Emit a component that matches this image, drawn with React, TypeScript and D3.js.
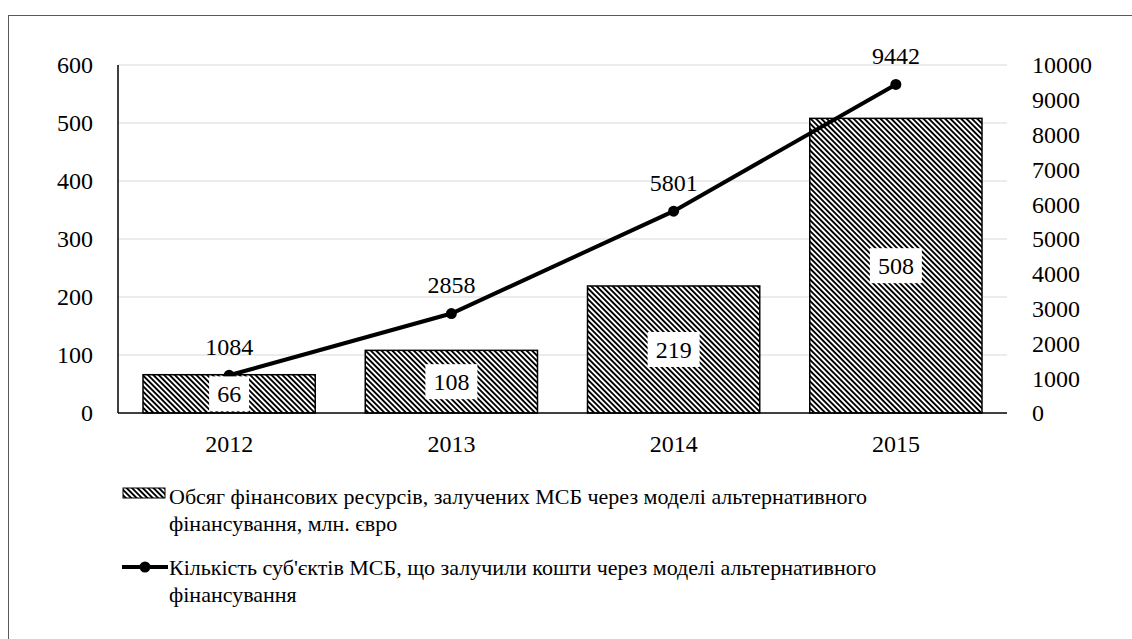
import React, { useEffect, useRef } from 'react';
import * as d3 from 'd3';

const years = ['2012', '2013', '2014', '2015'];
const volume = [66, 108, 219, 508];
const smeCount = [1084, 2858, 5801, 9442];
const leftTicks = [0, 100, 200, 300, 400, 500, 600];
const rightTicks = [0, 1000, 2000, 3000, 4000, 5000, 6000, 7000, 8000, 9000, 10000];
const legendBar = ['Обсяг фінансових ресурсів, залучених МСБ через моделі альтернативного', 'фінансування, млн. євро'];
const legendLine = ['Кількість суб\'єктів МСБ, що залучили кошти через моделі альтернативного', 'фінансування'];

export default function App() {
  const ref = useRef<SVGSVGElement>(null);

  useEffect(() => {
    const svg = d3.select(ref.current);
    svg.selectAll('*').remove();
    const font = "'Liberation Serif', 'Times New Roman', serif";

    const left = 118, right = 1007, top = 65, bottom = 413;

    // hatch pattern
    const defs = svg.append('defs');
    const pat = defs.append('pattern')
      .attr('id', 'hatch')
      .attr('patternUnits', 'userSpaceOnUse')
      .attr('width', 3.8).attr('height', 3.8)
      .attr('patternTransform', 'rotate(45)');
    pat.append('rect').attr('width', 3.8).attr('height', 3.8).attr('fill', '#fff');
    pat.append('rect').attr('x', 0).attr('y', 0).attr('width', 3.8).attr('height', 1.9).attr('fill', '#000');

    // outer frame
    svg.append('rect').attr('x', 8.5).attr('y', 15.5).attr('width', 1200).attr('height', 700)
      .attr('fill', 'none').attr('stroke', '#595959').attr('stroke-width', 1);

    const x = d3.scaleBand().domain(years).range([left, right]).paddingInner(0.225).paddingOuter(0.1125);
    const yL = d3.scaleLinear().domain([0, 600]).range([bottom, top]);
    const yR = d3.scaleLinear().domain([0, 10000]).range([bottom, top]);

    // gridlines
    svg.append('g').selectAll('line').data(leftTicks.filter(d => d > 0)).enter().append('line')
      .attr('x1', left).attr('x2', right)
      .attr('y1', d => yL(d)).attr('y2', d => yL(d))
      .attr('stroke', '#d9d9d9').attr('stroke-width', 1);

    // bars
    svg.append('g').selectAll('rect').data(volume).enter().append('rect')
      .attr('x', (d, i) => x(years[i])!)
      .attr('y', d => yL(d))
      .attr('width', x.bandwidth())
      .attr('height', d => bottom - yL(d))
      .attr('fill', 'url(#hatch)')
      .attr('stroke', '#000').attr('stroke-width', 1.5);

    // axes lines
    svg.append('line').attr('x1', left).attr('x2', left).attr('y1', top).attr('y2', bottom)
      .attr('stroke', '#000').attr('stroke-width', 1.5);
    svg.append('line').attr('x1', left).attr('x2', right).attr('y1', bottom).attr('y2', bottom)
      .attr('stroke', '#000').attr('stroke-width', 1.5);

    const txt = (sel: any, size: number) => sel.style('font-family', font).style('font-size', size + 'px').attr('fill', '#000');

    // left tick labels
    txt(svg.append('g').selectAll('text').data(leftTicks).enter().append('text')
      .attr('x', 93).attr('y', d => yL(d)).attr('dy', '0.35em')
      .attr('text-anchor', 'end')
      .text(d => d), 24);

    // right tick labels
    txt(svg.append('g').selectAll('text').data(rightTicks).enter().append('text')
      .attr('x', 1032).attr('y', d => yR(d)).attr('dy', '0.35em')
      .attr('text-anchor', 'start')
      .text(d => d), 24);

    // x labels
    txt(svg.append('g').selectAll('text').data(years).enter().append('text')
      .attr('x', d => x(d)! + x.bandwidth() / 2).attr('y', 452)
      .attr('text-anchor', 'middle')
      .text(d => d), 24);

    // line
    const cx = (i: number) => x(years[i])! + x.bandwidth() / 2;
    const line = d3.line<number>().x((d, i) => cx(i)).y(d => yR(d));
    svg.append('path').datum(smeCount).attr('d', line)
      .attr('fill', 'none').attr('stroke', '#000').attr('stroke-width', 4);
    svg.append('g').selectAll('circle').data(smeCount).enter().append('circle')
      .attr('cx', (d, i) => cx(i)).attr('cy', d => yR(d)).attr('r', 5.5).attr('fill', '#000');

    // bar value labels
    const bl = svg.append('g');
    volume.forEach((v, i) => {
      const cy = (yL(v) + bottom) / 2;
      const w = String(v).length * 12 + 16;
      bl.append('rect').attr('x', cx(i) - w / 2).attr('y', cy - 17.5).attr('width', w).attr('height', 35).attr('fill', '#fff');
      txt(bl.append('text').attr('x', cx(i)).attr('y', cy).attr('dy', '0.35em')
        .attr('text-anchor', 'middle').text(v), 24);
    });

    // line value labels
    txt(svg.append('g').selectAll('text').data(smeCount).enter().append('text')
      .attr('x', (d, i) => cx(i)).attr('y', d => yR(d) - 20.5)
      .attr('text-anchor', 'middle')
      .text(d => d), 24);

    // legend
    svg.append('rect').attr('x', 123).attr('y', 488).attr('width', 42).attr('height', 10)
      .attr('fill', 'url(#hatch)').attr('stroke', '#000').attr('stroke-width', 1);
    legendBar.forEach((t, i) => {
      txt(svg.append('text').attr('x', 169).attr('y', 504 + i * 27).text(t), 22);
    });
    svg.append('line').attr('x1', 122).attr('x2', 168).attr('y1', 567).attr('y2', 567)
      .attr('stroke', '#000').attr('stroke-width', 4);
    svg.append('circle').attr('cx', 145).attr('cy', 567).attr('r', 5.5).attr('fill', '#000');
    legendLine.forEach((t, i) => {
      txt(svg.append('text').attr('x', 169).attr('y', 575 + i * 27).text(t), 22);
    });
  }, []);

  return (
    <svg ref={ref} width={1132} height={639}
      style={{ position: 'absolute', left: 0, top: 0, background: '#fff' }} />
  );
}
